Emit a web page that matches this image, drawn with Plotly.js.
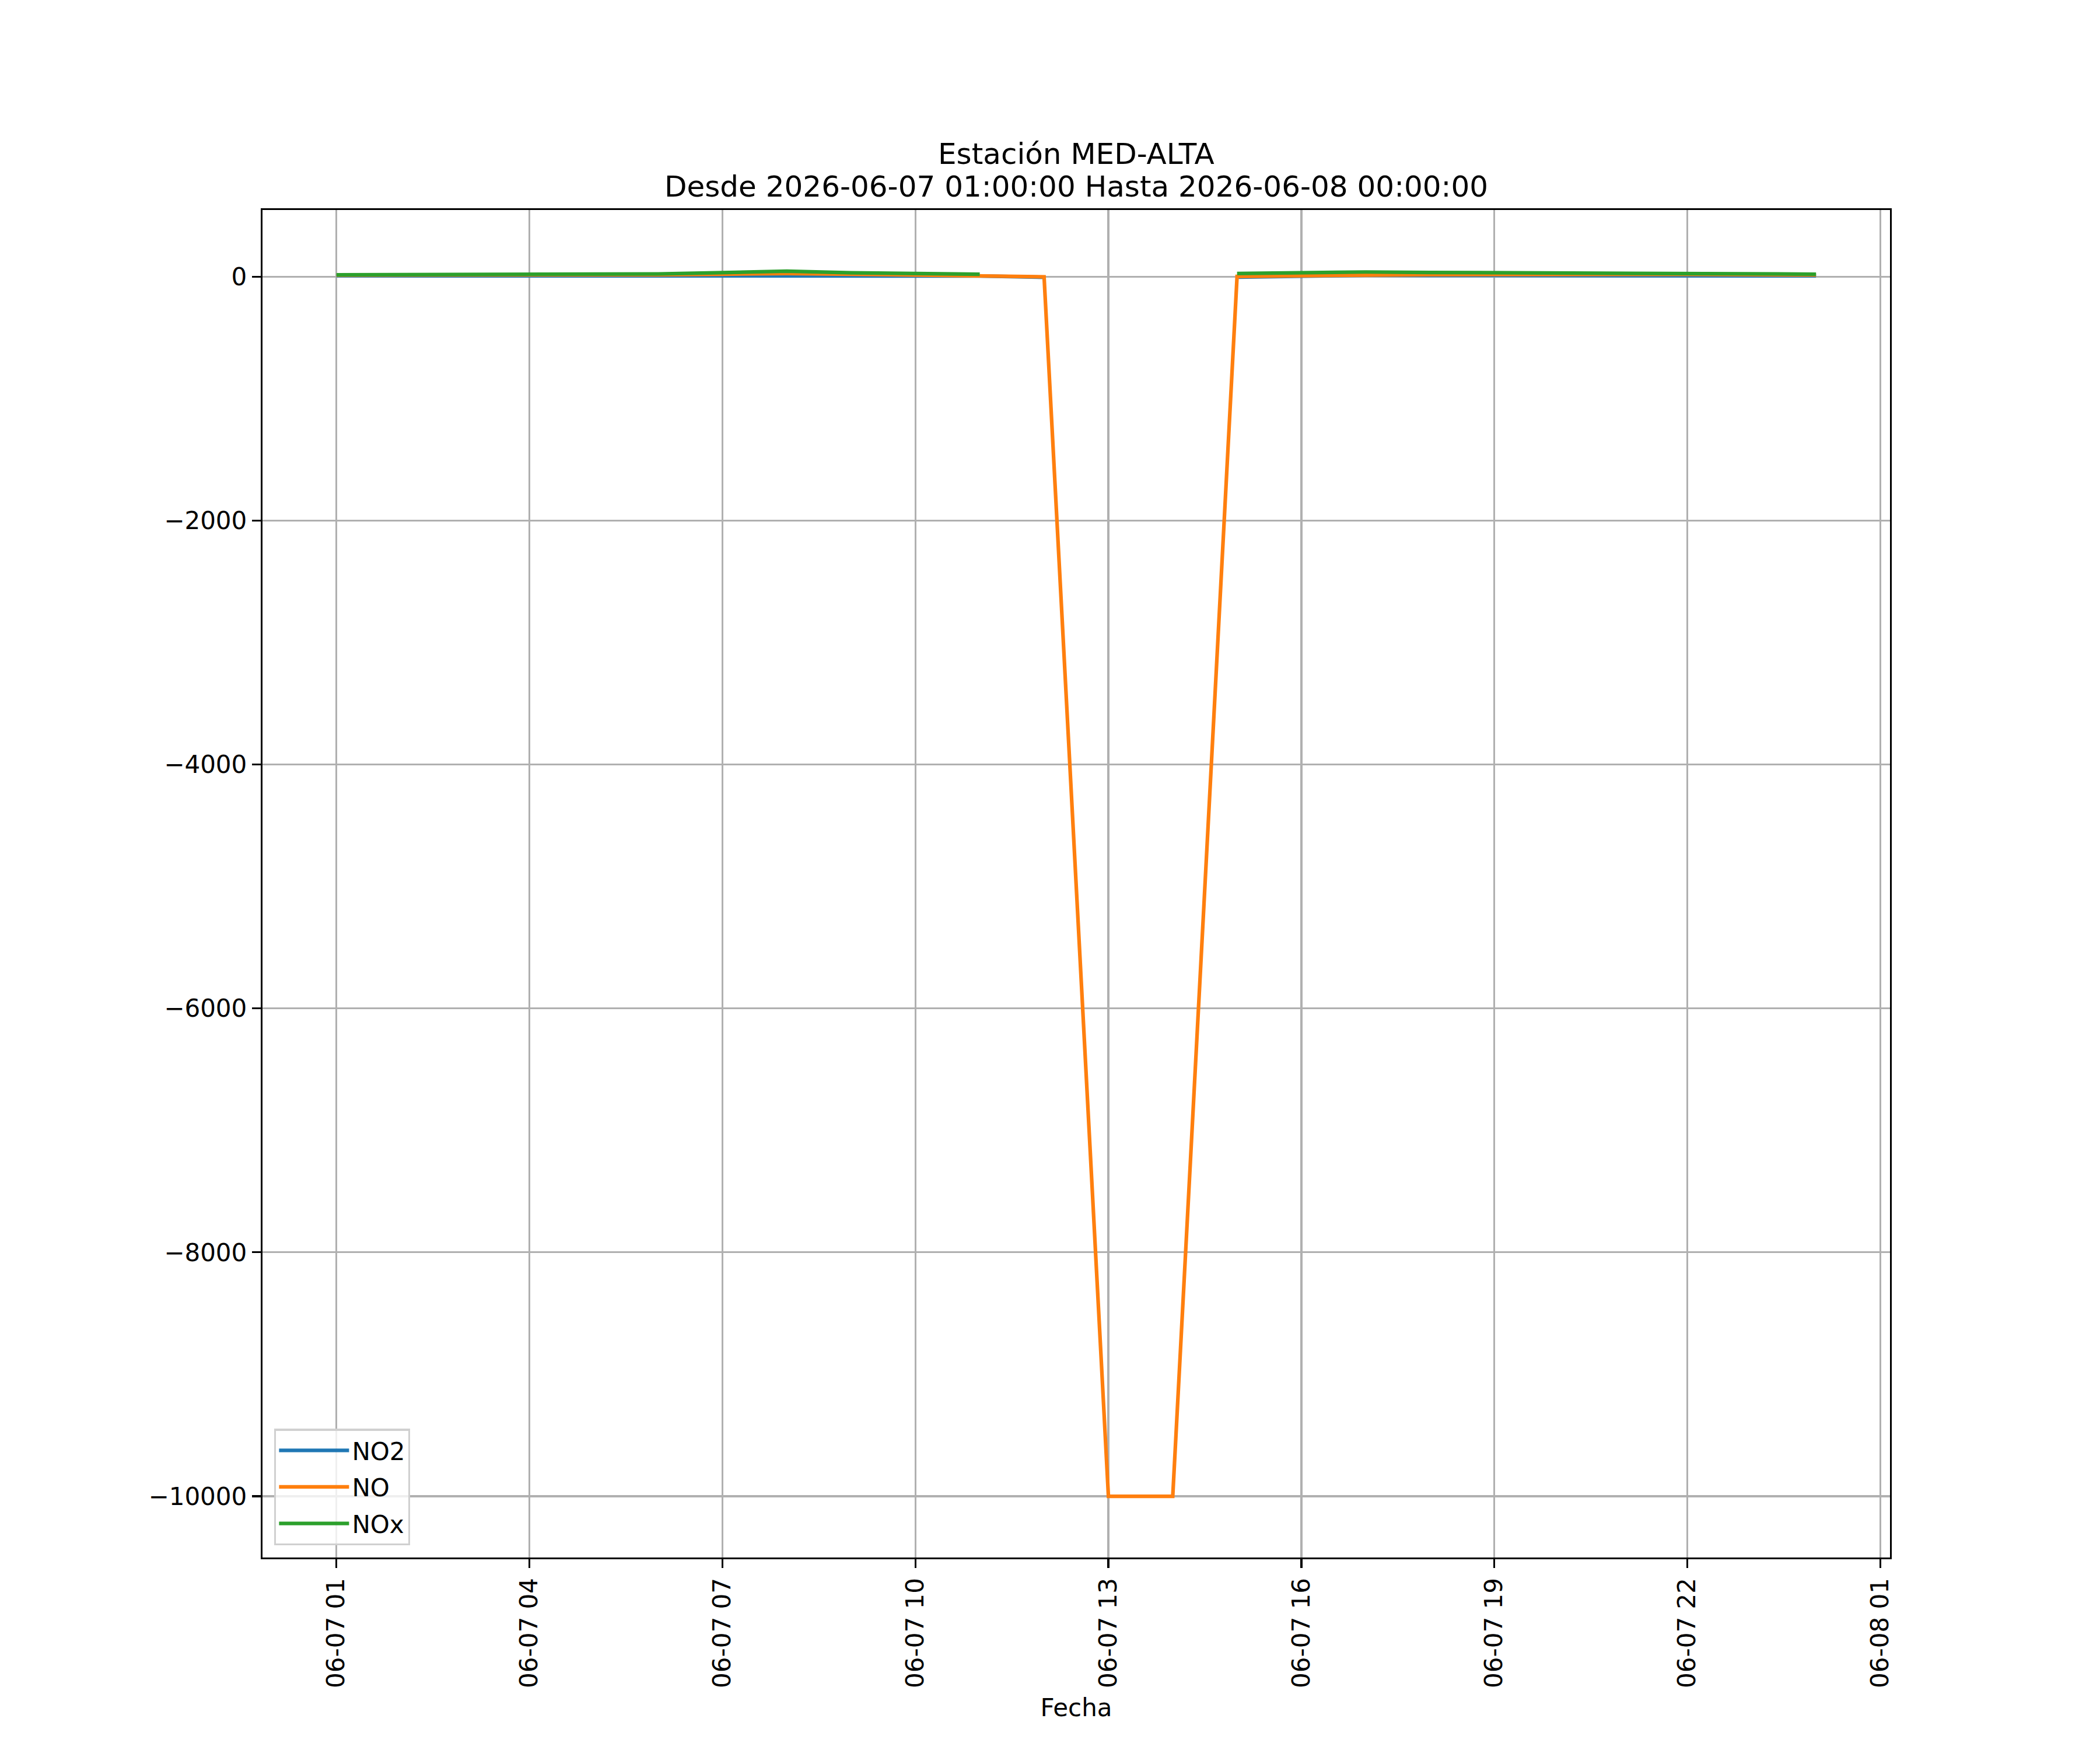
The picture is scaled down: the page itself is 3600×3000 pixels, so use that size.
<!DOCTYPE html>
<html>
<head>
<meta charset="utf-8">
<script src="https://cdn.plot.ly/plotly-3.0.1.min.js"></script>
<style>
  html, body { margin: 0; padding: 0; background: #fff; }
  #chart { width: 3600px; height: 3000px; }
</style>
</head>
<body>
<div id="chart"></div>
<script>
// hourly readings, 2026-06-07 01:00 .. 2026-06-08 00:00
var fechas = [
  '2026-06-07 01:00', '2026-06-07 02:00', '2026-06-07 03:00', '2026-06-07 04:00',
  '2026-06-07 05:00', '2026-06-07 06:00', '2026-06-07 07:00', '2026-06-07 08:00',
  '2026-06-07 09:00', '2026-06-07 10:00', '2026-06-07 11:00', '2026-06-07 12:00',
  '2026-06-07 13:00', '2026-06-07 14:00', '2026-06-07 15:00', '2026-06-07 16:00',
  '2026-06-07 17:00', '2026-06-07 18:00', '2026-06-07 19:00', '2026-06-07 20:00',
  '2026-06-07 21:00', '2026-06-07 22:00', '2026-06-07 23:00', '2026-06-08 00:00'
];

var no2 = [7, 7, 7, 6, 6, 7, 6, 10, 8, 6, 5, -6,
           null, null, -4, 5, 11, 10, 10, 10, 10, 9, 8, 6];

var no = [12, 12, 12, 12, 13, 15, 20, 25, 20, 14, 9, -2,
          -10000, -10000, 2, 10, 12, 16, 19, 19, 18, 18, 17, 13];

var nox = [15, 15, 16, 16, 18, 22, 33, 44, 32, 24, 19, null,
           null, null, 25, 32, 38, 34, 32, 31, 30, 30, 28, 20];

var nombres = ['NO2', 'NO', 'NOx'];
var colores = ['#1f77b4', '#ff7f0e', '#2ca02c'];
var series = [no2, no, nox];

var tituloLineas = ['Estación MED-ALTA', 'Desde 2026-06-07 01:00:00 Hasta 2026-06-08 00:00:00'];

// matplotlib-like 5% margins around the data
function padRange(lo, hi) {
  var d = (hi - lo) * 0.05;
  return [lo - d, hi + d];
}

var vals = [];
series.forEach(function (s) {
  s.forEach(function (v) { if (v !== null) vals.push(v); });
});
var yRange = padRange(Math.min.apply(null, vals), Math.max.apply(null, vals));

var t0 = new Date(fechas[0].replace(' ', 'T') + ':00Z').getTime();
var t1 = new Date(fechas[fechas.length - 1].replace(' ', 'T') + ':00Z').getTime();
var xr = padRange(t0, t1);
function fmt(ms) {
  return new Date(ms).toISOString().replace('T', ' ').replace('Z', '');
}
var xRange = [fmt(xr[0]), fmt(xr[1])];

var data = [];
for (var i = 0; i < series.length; i++) {
  data.push({
    x: fechas, y: series[i], name: nombres[i],
    legendgroup: nombres[i],
    mode: 'lines', type: 'scatter',
    line: { color: colores[i], width: 6.25 },
    connectgaps: false
  });
}

var font = { family: 'DejaVu Sans', size: 42, color: '#000' };
var fontTitulo = { family: 'DejaVu Sans', size: 50, color: '#000' };

var layout = {
  width: 3600, height: 3000,
  margin: { l: 450, r: 360, t: 360, b: 330 },
  paper_bgcolor: '#fff', plot_bgcolor: '#fff',
  font: font,
  showlegend: true,
  annotations: [
    { text: tituloLineas[0], xref: 'paper', yref: 'paper', x: 0.5, y: (2670 - 264) / 2310,
      xanchor: 'center', yanchor: 'middle', showarrow: false, font: fontTitulo },
    { text: tituloLineas[1], xref: 'paper', yref: 'paper', x: 0.5, y: (2670 - 320) / 2310,
      xanchor: 'center', yanchor: 'middle', showarrow: false, font: fontTitulo }
  ],
  xaxis: {
    type: 'date', range: xRange,
    tick0: fechas[0], dtick: 3 * 3600 * 1000,
    tickformat: '%m-%d %H', tickangle: -90,
    ticks: 'outside', ticklen: 15, tickwidth: 3.3, tickcolor: '#000',
    showgrid: true, gridcolor: '#b0b0b0', gridwidth: 3.3,
    showline: true, linecolor: '#000', linewidth: 3.3, mirror: true,
    zeroline: false, automargin: false,
    tickfont: font,
    title: { text: 'Fecha', font: font, standoff: 20 }
  },
  yaxis: {
    range: yRange, dtick: 2000, tick0: 0, tickformat: 'd',
    ticks: 'outside', ticklen: 15, tickwidth: 3.3, tickcolor: '#000',
    showgrid: true, gridcolor: '#b0b0b0', gridwidth: 3.3,
    showline: true, linecolor: '#000', linewidth: 3.3, mirror: true,
    zeroline: false, automargin: false,
    tickfont: font
  },
  legend: {
    x: 0.0072, y: 0.009, xanchor: 'left', yanchor: 'bottom',
    bgcolor: 'rgba(255,255,255,0.8)', bordercolor: '#d0d0d0', borderwidth: 3.3,
    font: font, itemwidth: 120, tracegroupgap: 5
  }
};

Plotly.newPlot('chart', data, layout, { staticPlot: true });
</script>
</body>
</html>
